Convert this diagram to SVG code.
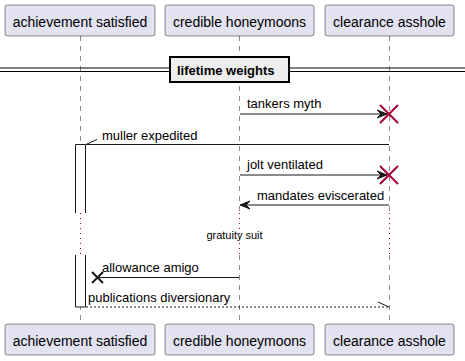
<svg xmlns="http://www.w3.org/2000/svg" width="465" height="361" viewBox="0 0 465 361">
  <style>
    .box { fill: #E2E2F0; stroke: #181818; stroke-width: 0.5; }
    .ptext { font-family: "Liberation Sans", Arial, sans-serif; font-size: 14px; fill: #000; }
    .mtext { font-family: "Liberation Sans", Arial, sans-serif; font-size: 13px; fill: #000; }
    .life { stroke: #181818; stroke-width: 0.5; stroke-dasharray: 5,5; fill: none; }
    .delay { stroke: #A80036; stroke-width: 1; stroke-dasharray: 1,4; fill: none; }
    .msg { stroke: #181818; stroke-width: 1; fill: none; }
    .dashed { stroke-dasharray: 2,2; }
    .head { fill: #181818; stroke: #181818; stroke-width: 1; }
    .act-fill { fill: #FFFFFF; stroke: none; }
    .act-edge { fill: none; stroke: #181818; stroke-width: 1; }
    .kill { stroke: #A80036; stroke-width: 2; }
    .lost { stroke: #181818; stroke-width: 2; }
  </style>

  <!-- lifelines -->
  <g id="lifelines">
    <line class="life" x1="80.5" y1="36" x2="80.5" y2="213"/>
    <line class="life" x1="80.5" y1="255" x2="80.5" y2="324"/>
    <line class="delay" x1="80.5" y1="213" x2="80.5" y2="255"/>
    <line class="life" x1="239.5" y1="36" x2="239.5" y2="213"/>
    <line class="life" x1="239.5" y1="255" x2="239.5" y2="324"/>
    <line class="delay" x1="239.5" y1="213" x2="239.5" y2="255"/>
    <line class="life" x1="389.5" y1="36" x2="389.5" y2="213"/>
    <line class="life" x1="389.5" y1="255" x2="389.5" y2="324"/>
    <line class="delay" x1="389.5" y1="213" x2="389.5" y2="255"/>
  </g>

  <!-- activation bar, interrupted by the delay -->
  <g id="activations">
    <rect class="act-fill" x="75.5" y="144.5" width="10" height="68.5"/>
    <path class="act-edge" d="M75.5,213 V144.5 H85.5 V213"/>
    <rect class="act-fill" x="75.5" y="255" width="10" height="52"/>
    <path class="act-edge" d="M75.5,255 V307 H85.5 V255"/>
  </g>

  <!-- participants -->
  <g id="p-achievement">
    <rect class="box" x="5" y="5" width="150" height="31" rx="2.5"/>
    <text class="ptext" x="80" y="27" text-anchor="middle">achievement satisfied</text>
    <rect class="box" x="5" y="324" width="150" height="31" rx="2.5"/>
    <text class="ptext" x="80" y="346" text-anchor="middle">achievement satisfied</text>
  </g>
  <g id="p-credible">
    <rect class="box" x="165" y="5" width="149" height="31" rx="2.5"/>
    <text class="ptext" x="239.5" y="27" text-anchor="middle">credible honeymoons</text>
    <rect class="box" x="165" y="324" width="149" height="31" rx="2.5"/>
    <text class="ptext" x="239.5" y="346" text-anchor="middle">credible honeymoons</text>
  </g>
  <g id="p-clearance">
    <rect class="box" x="325" y="5" width="129" height="31" rx="2.5"/>
    <text class="ptext" x="389.5" y="27" text-anchor="middle">clearance asshole</text>
    <rect class="box" x="325" y="324" width="129" height="31" rx="2.5"/>
    <text class="ptext" x="389.5" y="346" text-anchor="middle">clearance asshole</text>
  </g>

  <!-- section divider -->
  <g id="divider">
    <line x1="0" y1="68" x2="465" y2="68" stroke="#000" stroke-width="1"/>
    <line x1="0" y1="71.5" x2="465" y2="71.5" stroke="#000" stroke-width="1"/>
    <rect x="170" y="57" width="119" height="25" fill="#EEEEEE" stroke="#000" stroke-width="2"/>
    <text x="177" y="75" font-family="Liberation Sans, Arial, sans-serif" font-size="13" font-weight="bold">lifetime weights</text>
  </g>

  <!-- messages -->
  <g id="connectors">
    <line class="msg" x1="240" y1="114" x2="387" y2="114"/>
    <polygon class="head" points="377,110 387,114 377,118 381,114"/>
    <line class="kill" x1="380" y1="105" x2="398" y2="123"/>
    <line class="kill" x1="380" y1="123" x2="398" y2="105"/>
    <text class="mtext" x="247" y="108">tankers myth</text>

    <line class="msg" x1="389" y1="144.5" x2="86" y2="144.5"/>
    <line class="msg" x1="86" y1="144.5" x2="97" y2="139.5"/>
    <text class="mtext" x="102" y="140">muller expedited</text>

    <line class="msg" x1="240" y1="175" x2="387" y2="175"/>
    <polygon class="head" points="377,171 387,175 377,179 381,175"/>
    <line class="kill" x1="380" y1="166" x2="398" y2="184"/>
    <line class="kill" x1="380" y1="184" x2="398" y2="166"/>
    <text class="mtext" x="247" y="169">jolt ventilated</text>

    <line class="msg" x1="389" y1="205" x2="241" y2="205"/>
    <polygon class="head" points="250,201 240,205 250,209 246,205"/>
    <text class="mtext" x="257" y="200">mandates eviscerated</text>

    <line class="msg" x1="239" y1="277.5" x2="98" y2="277.5"/>
    <line class="lost" x1="92" y1="272" x2="103" y2="283"/>
    <line class="lost" x1="92" y1="283" x2="103" y2="272"/>
    <text class="mtext" x="102" y="272">allowance amigo</text>

    <line class="msg dashed" x1="86" y1="307" x2="389" y2="307"/>
    <line class="msg" x1="389" y1="307" x2="378" y2="302"/>
    <text class="mtext" x="88" y="302">publications diversionary</text>
  </g>

  <!-- delay note -->
  <g id="delay-label">
    <text x="234.5" y="239" text-anchor="middle" font-family="Liberation Sans, Arial, sans-serif" font-size="11">gratuity suit</text>
  </g>
</svg>
